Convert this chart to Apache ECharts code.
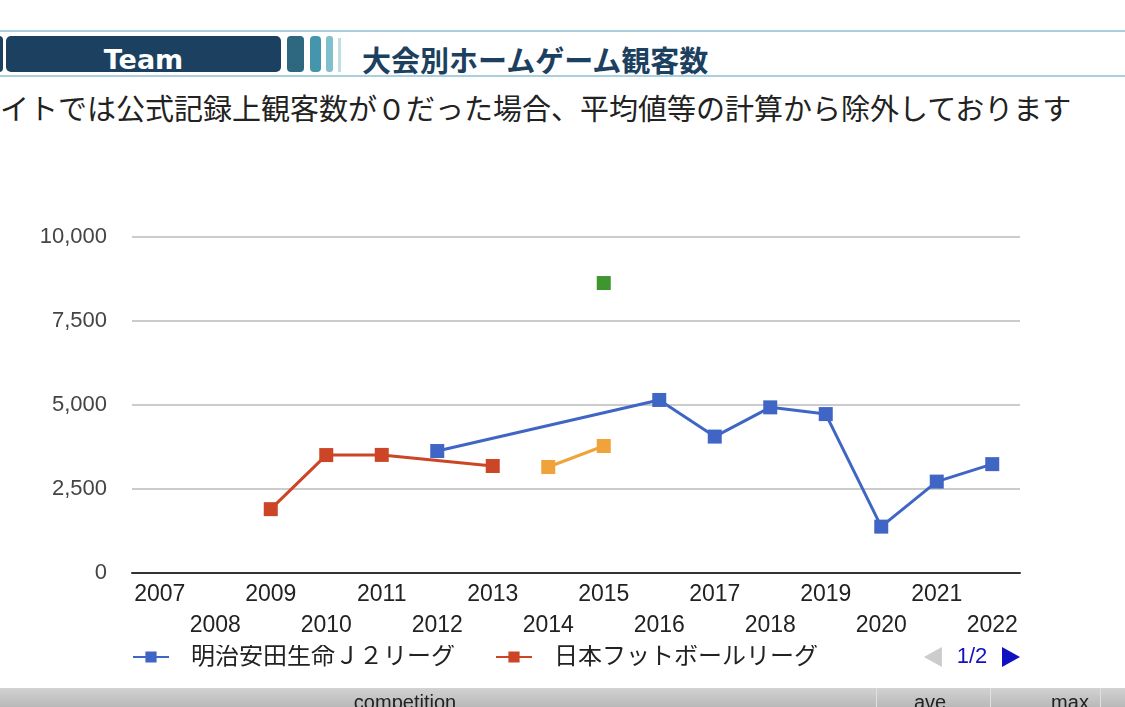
<!DOCTYPE html>
<html>
<head>
<meta charset="utf-8">
<script src="https://cdn.jsdelivr.net/npm/echarts@6/dist/echarts.min.js"></script>
<style>
  html, body { margin:0; padding:0; width:1125px; height:707px; overflow:hidden; background:#fff;
    font-family: "Liberation Sans", "Noto Sans CJK JP", sans-serif; }
  .abs { position:absolute; }
  #chart { position:absolute; left:0; top:0; width:1125px; height:707px; }
</style>
</head>
<body>
<div class="abs" style="left:0;top:30px;width:1125px;height:2px;background:#a9d0dc;"></div>
<div class="abs" style="left:0;top:75px;width:1125px;height:2px;background:#a9d0dc;"></div>
<div class="abs" style="left:-6px;top:36px;width:9px;height:36px;background:#1c4060;border-radius:4px;"></div>
<div class="abs" style="left:6px;top:36px;width:275px;height:36px;background:#1c4060;border-radius:5px;color:#fff;font-weight:bold;font-size:27px;line-height:48px;text-align:center;font-family:'DejaVu Sans','Liberation Sans',sans-serif;overflow:hidden;">Team</div>
<div class="abs" style="left:287px;top:36px;width:17px;height:36px;background:#2d6880;border-radius:4px;"></div>
<div class="abs" style="left:310px;top:36px;width:11px;height:36px;background:#4596ad;border-radius:4px;"></div>
<div class="abs" style="left:326px;top:36px;width:7px;height:36px;background:#80bfcc;border-radius:3px;"></div>
<div class="abs" style="left:338px;top:38px;width:3px;height:34px;background:#c0dee5;"></div>
<div class="abs" style="left:362px;top:41px;font-size:29px;font-weight:bold;color:#1c4060;line-height:36px;white-space:nowrap;font-family:'Noto Sans CJK JP',sans-serif;">大会別ホームゲーム観客数</div>
<div class="abs" style="left:0;top:89px;font-size:29px;color:#222;line-height:36px;white-space:nowrap;font-family:'Noto Sans CJK JP',sans-serif;">イトでは公式記録上観客数が０だった場合、平均値等の計算から除外しております</div>

<div id="chart"></div>

<div class="abs" style="left:0;top:688px;width:1125px;height:19px;background:linear-gradient(#d2d2d2,#b9b9b9);"></div>
<div class="abs" style="left:876px;top:688px;width:1px;height:19px;background:#e0e0e0;"></div>
<div class="abs" style="left:990px;top:688px;width:1px;height:19px;background:#e0e0e0;"></div>
<div class="abs" style="left:1100px;top:688px;width:1px;height:19px;background:#e0e0e0;"></div>
<div class="abs" style="left:300px;top:690px;width:210px;text-align:center;font-size:20px;color:#222;line-height:24px;">competition</div>
<div class="abs" style="left:890px;top:690px;width:80px;text-align:center;font-size:20px;color:#222;line-height:24px;">ave</div>
<div class="abs" style="left:1030px;top:690px;width:80px;text-align:center;font-size:20px;color:#222;line-height:24px;">max</div>

<script>
const years = ['2007','2008','2009','2010','2011','2012','2013','2014','2015','2016','2017','2018','2019','2020','2021','2022'];
const seriesNames = ['明治安田生命Ｊ２リーグ', '日本フットボールリーグ', '明治安田生命Ｊ３リーグ', 'Ｊ２・Ｊ３入れ替え戦'];
const j2 =  [null, null, null, null, null, 3630, null, null, null, 5150, 4060, 4930, 4730, 1380, 2720, 3240];
const jfl = [null, null, 1900, 3510, 3515, null, 3185, null, null, null, null, null, null, null, null, null];
const j3 =  [null, null, null, null, null, null, null, 3155, 3780, null, null, null, null, null, null, null];
const po =  [null, null, null, null, null, null, null, null, 8630, null, null, null, null, null, null, null];
const yTicks = { min: 0, max: 10000, interval: 2500 };
const colors = ['#3f65c5', '#cc4526', '#f0a33b', '#40962e'];

const chart = echarts.init(document.getElementById('chart'));
const font = '"Liberation Sans", "Noto Sans CJK JP", sans-serif';
const data = [j2, jfl, j3, po];

// legend layout: page 1 shows the first two entries only (page indicator 1/2)
const lg = { left: 132, width: 888, itemWidth: 36, itemGap: 40, textPad: 17, fontSize: 24,
             pageFont: 22, pageIconW: 18, pageIconH: 20, pageGap: 5 };
const ctx = document.createElement('canvas').getContext('2d');
function tw(text, size) { ctx.font = size + 'px ' + font; return ctx.measureText(text).width; }
function itemW(name) { return lg.itemWidth + 5 + lg.textPad + tw(name, lg.fontSize); }
const thirdStart = itemW(seriesNames[0]) + lg.itemGap + itemW(seriesNames[1]) + lg.itemGap;
const ctrlW = lg.pageIconW * 2 + lg.pageGap * 2 + tw('xx/xx', lg.pageFont);
// icon stroke bounds add ~2.5px per item; keep the 3rd entry just outside the visible window
const pageButtonGap = lg.width - ctrlW - (thirdStart + 5.3);
const legendData = seriesNames.map((n, i) => (i === 2 ? { name: n, lineStyle: { opacity: 0 } } : n));

chart.setOption({
  animation: false,
  color: colors,
  grid: { left: 132, right: 105, top: 237, bottom: 134, containLabel: false },
  xAxis: {
    type: 'category', data: years, boundaryGap: true,
    axisLine: { lineStyle: { color: '#333', width: 2 } },
    axisTick: { show: false },
    axisLabel: {
      interval: 0, margin: 6, color: '#222', fontSize: 23, fontFamily: font, lineHeight: 31,
      formatter: (v, i) => (i % 2 ? '\n' + v : v)
    }
  },
  yAxis: {
    type: 'value', min: yTicks.min, max: yTicks.max, interval: yTicks.interval,
    axisLine: { show: false }, axisTick: { show: false },
    splitLine: { lineStyle: { color: '#cccccc', width: 2 } },
    axisLabel: { margin: 25, color: '#444', fontSize: 22, fontFamily: font,
      formatter: v => v.toLocaleString('en-US') }
  },
  legend: {
    type: 'scroll', orient: 'horizontal', left: lg.left, top: 645, width: lg.width, padding: 0,
    itemWidth: lg.itemWidth, itemHeight: 14, itemGap: lg.itemGap,
    textStyle: { color: '#222', fontSize: lg.fontSize, fontFamily: font, padding: [0, 0, 0, lg.textPad] },
    pageIcons: { horizontal: ['path://M0,0L18,-10L18,10z', 'path://M0,0L-18,-10L-18,10z'] },
    pageIconColor: '#1111c4', pageIconInactiveColor: '#cccccc', pageIconSize: [lg.pageIconW, lg.pageIconH],
    pageTextStyle: { color: '#1111c4', fontSize: lg.pageFont, fontFamily: font },
    pageButtonItemGap: lg.pageGap, pageButtonGap: pageButtonGap,
    data: legendData
  },
  series: data.map((d, i) => ({
    name: seriesNames[i], type: 'line', data: d, connectNulls: true,
    symbol: 'rect', symbolSize: 14, showSymbol: true,
    lineStyle: { width: 3 }, itemStyle: { color: colors[i] }
  }))
});
</script>
</body>
</html>
